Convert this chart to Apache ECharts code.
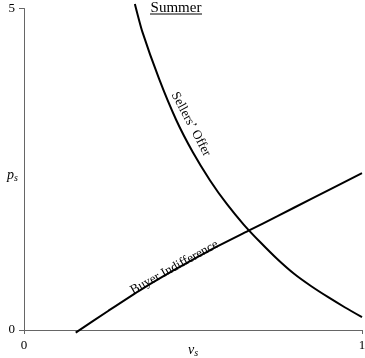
<!DOCTYPE html>
<html>
<head>
<meta charset="utf-8">
<script src="https://cdn.jsdelivr.net/npm/echarts@6/dist/echarts.min.js"></script>
<style>
  html, body { margin: 0; padding: 0; background: #fff; }
  #chart { width: 365px; height: 358px; }
</style>
</head>
<body>
<div id="chart"></div>
<script>
// values
var sellerX = [0.328, 0.35, 0.40, 0.45, 0.50, 0.55, 0.60, 0.65, 0.70, 0.75, 0.80, 0.85, 0.90, 0.95, 1.0];
var sellerY = [5.07, 4.64, 3.90, 3.27, 2.76, 2.33, 1.96, 1.64, 1.36, 1.10, 0.87, 0.68, 0.51, 0.35, 0.20];
var buyerX = [0.153, 0.25, 0.35, 0.45, 0.55, 0.663, 0.75, 0.85, 1.0];
var buyerY = [-0.04, 0.30, 0.64, 0.95, 1.24, 1.54, 1.77, 2.04, 2.44];
var xTicks = [0, 1];
var yTicks = [0, 5];

var serif = "'Liberation Serif', 'Times New Roman', serif";

function pairs(xs, ys) {
    var out = [];
    for (var i = 0; i < xs.length; i++) {
        out.push([xs[i], ys[i]]);
    }
    return out;
}

var nameRich = {
    i: { fontFamily: serif, fontStyle: 'italic', fontSize: 14, color: '#000' },
    s: { fontFamily: serif, fontStyle: 'italic', fontSize: 10, color: '#000', padding: [6, 0, 0, 0] }
};

var chart = echarts.init(document.getElementById('chart'));
var option = {
    animation: false,
    grid: { left: 24, right: 3, top: 8.5, bottom: 28, containLabel: false, outerBoundsMode: 'none' },
    xAxis: {
        type: 'value',
        min: xTicks[0],
        max: xTicks[1],
        interval: xTicks[1] - xTicks[0],
        splitLine: { show: false },
        axisLine: { lineStyle: { color: '#666', width: 1 } },
        axisTick: { length: 4, lineStyle: { color: '#666' } },
        axisLabel: { color: '#000', fontFamily: serif, fontSize: 13, margin: 9 },
        name: '{i|v}{s|s}',
        nameLocation: 'middle',
        nameGap: 12,
        nameMoveOverlap: false,
        nameTextStyle: { rich: nameRich }
    },
    yAxis: {
        type: 'value',
        min: yTicks[0],
        max: yTicks[1],
        interval: yTicks[1] - yTicks[0],
        splitLine: { show: false },
        axisLine: { lineStyle: { color: '#666', width: 1 } },
        axisTick: { length: 5, lineStyle: { color: '#666' } },
        axisLabel: { color: '#000', fontFamily: serif, fontSize: 13, margin: 9 },
        name: '{i|p}{s|s}',
        nameLocation: 'middle',
        nameRotate: 0,
        nameGap: 6,
        nameMoveOverlap: false,
        nameTextStyle: { padding: [12, 0, 0, 0], rich: nameRich }
    },
    series: [
        {
            name: 'Sellers’ Offer',
            type: 'line',
            data: pairs(sellerX, sellerY),
            smooth: 0.2,
            showSymbol: false,
            symbol: 'none',
            clip: false,
            lineStyle: { color: '#000', width: 2 }
        },
        {
            name: 'Buyer Indifference',
            type: 'line',
            data: pairs(buyerX, buyerY),
            smooth: 0.2,
            showSymbol: false,
            symbol: 'none',
            clip: false,
            lineStyle: { color: '#000', width: 2 }
        }
    ]
};
chart.setOption(option);

// curve labels, placed in data space
var sellerAt = chart.convertToPixel({ gridIndex: 0 }, [0.494, 3.2]);
var buyerAt = chart.convertToPixel({ gridIndex: 0 }, [0.445, 0.974]);

chart.setOption({
    graphic: [
        {
            type: 'text',
            x: sellerAt[0],
            y: sellerAt[1],
            rotation: -62 * Math.PI / 180,
            style: {
                text: 'Sellers’ Offer',
                fontFamily: serif,
                fontSize: 13,
                fill: '#000',
                align: 'center',
                verticalAlign: 'middle'
            }
        },
        {
            type: 'text',
            x: buyerAt[0],
            y: buyerAt[1],
            rotation: 29 * Math.PI / 180,
            style: {
                text: 'Buyer Indifference',
                fontFamily: serif,
                fontSize: 13,
                fill: '#000',
                align: 'center',
                verticalAlign: 'middle'
            }
        },
        {
            type: 'text',
            x: 176,
            y: 8,
            style: {
                text: 'Summer',
                fontFamily: serif,
                fontSize: 15,
                fill: '#000',
                align: 'center',
                verticalAlign: 'middle'
            }
        },
        {
            type: 'line',
            shape: { x1: 150, y1: 14, x2: 202, y2: 14 },
            style: { stroke: '#000', lineWidth: 1 }
        }
    ]
});
</script>
</body>
</html>
